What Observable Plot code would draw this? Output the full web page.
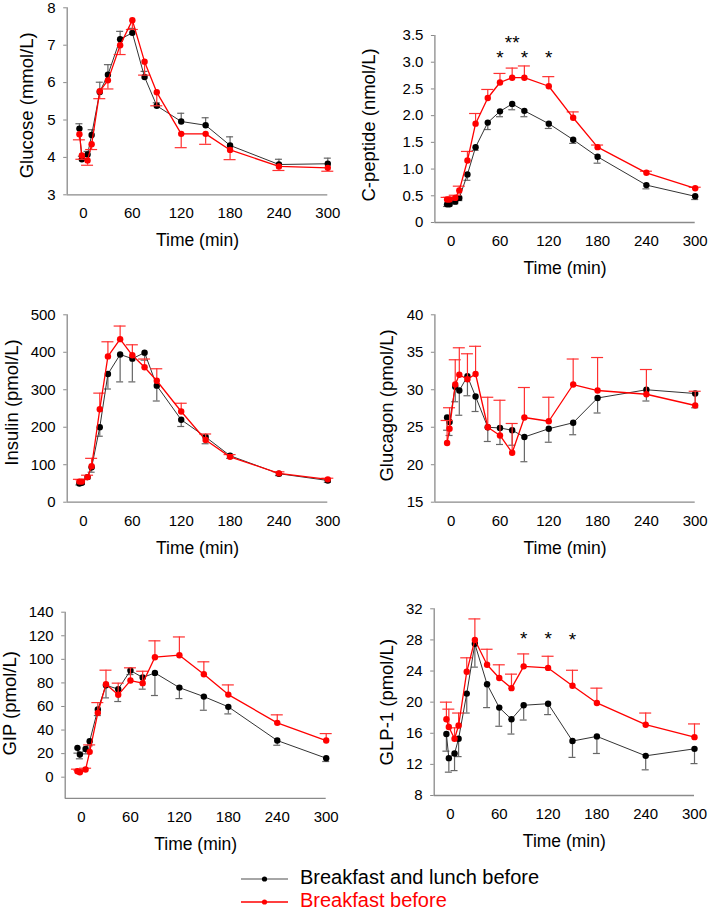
<!DOCTYPE html>
<html><head><meta charset="utf-8">
<script src="https://cdn.jsdelivr.net/npm/d3@7"></script>
<script src="https://cdn.jsdelivr.net/npm/@observablehq/plot@0.6"></script>
<style>
body{margin:0;background:#fff;font-family:"Liberation Sans",Arial,sans-serif;}
#fig{position:relative;width:709px;height:910px;overflow:hidden;background:#fff;}
.panel{position:absolute;}
.leg{position:absolute;left:241px;font-size:20px;line-height:23px;white-space:nowrap;}
.leg svg{vertical-align:middle;margin-right:12px;}
</style></head><body><div id="fig"></div>
<script>
// time points (min)
const time = [-5, -2, 5, 10, 20, 30, 45, 60, 75, 90, 120, 150, 180, 240, 300];
const xTicks = [0, 60, 120, 180, 240, 300];
const seriesNames = ["Breakfast and lunch before", "Breakfast before"];

// Glucose (mmol/L)
const gluB  = [4.77, 3.95, 4.08, 4.60, 5.75, 6.21, 7.16, 7.33, 6.15, 5.38, 4.96, 4.86, 4.32, 3.81, 3.83];
const gluBe = [0.13, 0.08, 0.08, 0.14, 0.26, 0.27, 0.21, 0.12, 0.15, 0.08, 0.22, 0.20, 0.23, 0.14, 0.15];
const gluR  = [4.62, 4.05, 3.92, 4.35, 5.77, 6.06, 7.00, 7.67, 6.56, 5.74, 4.63, 4.63, 4.20, 3.76, 3.72];
const gluRe = [0.15, 0.10, 0.13, 0.14, 0.20, 0.23, 0.25, 0.25, 0.36, 0.36, 0.37, 0.28, 0.26, 0.11, 0.09];
const gluTicks = [3, 4, 5, 6, 7, 8];

// C-peptide (nmol/L)
const cpB  = [0.34, 0.34, 0.39, 0.46, 0.90, 1.41, 1.87, 2.08, 2.22, 2.09, 1.85, 1.55, 1.23, 0.70, 0.49];
const cpBe = [0.04, 0.03, 0.04, 0.05, 0.11, 0.06, 0.13, 0.10, 0.11, 0.11, 0.09, 0.07, 0.12, 0.07, 0.06];
const cpR  = [0.43, 0.43, 0.46, 0.60, 1.16, 1.85, 2.33, 2.62, 2.71, 2.71, 2.55, 1.96, 1.41, 0.93, 0.64];
const cpRe = [0.04, 0.04, 0.05, 0.08, 0.17, 0.19, 0.16, 0.17, 0.18, 0.22, 0.18, 0.11, 0.04, 0.03, 0.02];
const cpTicks = [0, 0.5, 1.0, 1.5, 2.0, 2.5, 3.0, 3.5];
const cpStarT = [60, 75, 90, 120];
const cpStarY = [3.18, 3.46, 3.18, 3.18];
const cpStarS = ["*", "**", "*", "*"];

// Insulin (pmol/L)
const insB  = [50, 52, 67, 93, 200, 342, 394, 383, 399, 311, 220, 174, 124, 76, 58];
const insBe = [4, 4, 5, 13, 24, 40, 73, 62, 20, 41, 18, 18, 7, 5, 5];
const insR  = [55, 55, 67, 96, 248, 389, 435, 392, 360, 324, 242, 166, 121, 77, 61];
const insRe = [6, 5, 5, 21, 43, 39, 35, 28, 22, 32, 22, 16, 6, 4, 3];
const insTicks = [0, 100, 200, 300, 400, 500];

// Glucagon (pmol/L)
const gcgB  = [26.3, 25.7, 30.4, 29.9, 31.8, 29.1, 25.0, 24.9, 24.6, 23.7, 24.8, 25.6, 28.9, 30.0, 29.5];
const gcgBe = [1.7, 1.8, 2.0, 3.3, 2.6, 2.0, 1.9, 2.2, 2.0, 3.3, 1.8, 1.6, 2.0, 1.5, 1.9];
const gcgR  = [22.9, 24.8, 30.7, 32.0, 31.4, 32.1, 25.0, 23.9, 21.6, 26.3, 25.8, 30.7, 29.9, 29.4, 27.9];
const gcgRe = [3.0, 2.8, 3.3, 3.6, 3.4, 3.7, 4.0, 4.7, 3.9, 4.0, 3.2, 3.4, 4.4, 3.3, 1.9];
const gcgTicks = [15, 20, 25, 30, 35, 40];

// GIP (pmol/L)
const gipB  = [24.9, 19.2, 24.0, 30.5, 57.4, 78.0, 74.7, 90.5, 84.6, 88.5, 76.0, 68.4, 59.7, 31.1, 16.1];
const gipBe = [4.5, 3.6, 4.2, 3.9, 5.1, 10.7, 10.5, 3.4, 9.9, 19.2, 9.3, 11.6, 6.0, 4.0, 2.8];
const gipR  = [5.1, 4.2, 6.5, 21.5, 54.6, 78.9, 69.9, 82.0, 79.8, 101.8, 103.5, 87.4, 70.1, 46.1, 31.1];
const gipRe = [1.7, 1.7, 1.1, 5.9, 8.7, 11.9, 9.9, 10.8, 10.1, 13.9, 15.5, 10.5, 8.2, 6.8, 5.9];
const gipTicks = [0, 20, 40, 60, 80, 100, 120, 140];

// GLP-1 (pmol/L)
const glpB  = [15.9, 12.8, 13.4, 15.3, 21.1, 27.5, 22.3, 19.3, 17.8, 19.6, 19.8, 15.0, 15.6, 13.1, 14.0];
const glpBe = [2.2, 1.8, 2.2, 2.3, 2.5, 3.0, 3.0, 2.4, 1.9, 1.9, 1.4, 2.1, 2.2, 1.8, 1.9];
const glpR  = [17.8, 16.8, 15.3, 17.0, 23.9, 28.0, 24.8, 23.1, 21.8, 24.6, 24.4, 22.1, 19.9, 17.1, 15.5];
const glpRe = [2.2, 2.3, 1.4, 1.6, 1.8, 2.7, 2.0, 1.7, 1.8, 1.6, 1.5, 2.0, 1.9, 1.5, 1.7];
const glpTicks = [8, 12, 16, 20, 24, 28, 32];
const glpStarT = [90, 120, 150];
const glpStarY = [28.8, 28.8, 28.6];
const glpStarS = ["*", "*", "*"];

const FONT = "'Liberation Sans', Arial, sans-serif";
const AXIS = "#8a8a8a";
const RED = "#ff0000";

const panels = [
  {label: "Glucose (mmol/L)", left: 0, top: 0, w: 354, h: 270, x0: 66.7, x1: 327.3, y0: 7.3, y1: 194.3,
   dom: [3, 8], ticks: gluTicks, B: gluB, Be: gluBe, R: gluR, Re: gluRe, bs: 1, rs: -1, fmt: d => String(d), ldx: 27, ldy: 4},
  {label: "C-peptide (nmol/L)", left: 354, top: 0, w: 355, h: 280, x0: 434.4, x1: 694.7, y0: 35, y1: 222,
   dom: [0, 3.5], ticks: cpTicks, B: cpB, Be: cpBe, R: cpR, Re: cpRe, bs: -1, rs: 1, fmt: d => d === 0 ? "0" : d.toFixed(1), ldx: 368.5, ldy: -4,
   stars: {t: cpStarT, y: cpStarY, s: cpStarS}},
  {label: "Insulin (pmol/L)", left: 0, top: 280, w: 354, h: 300, x0: 66.7, x1: 327.3, y0: 314.3, y1: 501.7,
   dom: [0, 500], ticks: insTicks, B: insB, Be: insBe, R: insR, Re: insRe, bs: -1, rs: 1, fmt: d => String(d), ldx: 12, ldy: -6},
  {label: "Glucagon (pmol/L)", left: 354, top: 280, w: 355, h: 300, x0: 434.4, x1: 694.7, y0: 314.3, y1: 501.7,
   dom: [15, 40], ticks: gcgTicks, B: gcgB, Be: gcgBe, R: gcgR, Re: gcgRe, bs: -1, rs: 1, fmt: d => String(d), ldx: 386.5, ldy: -3},
  {label: "GIP (pmol/L)", left: 0, top: 580, w: 354, h: 270, x0: 64.7, x1: 325.7, y0: 611.7, y1: 797.9,
   dom: [-18, 140], ticks: gipTicks, B: gipB, Be: gipBe, R: gipR, Re: gipRe, bs: -1, rs: 1, fmt: d => String(d), ldx: 10, ldy: -2},
  {label: "GLP-1 (pmol/L)", left: 354, top: 580, w: 355, h: 270, x0: 433.7, x1: 694, y0: 608.3, y1: 795,
   dom: [8, 32], ticks: glpTicks, B: glpB, Be: glpBe, R: glpR, Re: glpRe, bs: -1, rs: 1, fmt: d => String(d), ldx: 386.5, ldy: 0,
   stars: {t: glpStarT, y: glpStarY, s: glpStarS}}
];

function rows(vals, sems, sign) {
  return time.map((t, i) => ({t, v: vals[i], e: vals[i] + sign * sems[i]}));
}

function seriesMarks(data, lineColor, dotColor, barColor, cap, lw) {
  return [
    Plot.ruleX(data, {x: "t", y1: "v", y2: "e", stroke: barColor, strokeWidth: 1.2}),
    Plot.ruleY(data, {x1: "t", x2: "t", y: "e", insetLeft: -cap, insetRight: -cap, stroke: barColor, strokeWidth: 1.2}),
    Plot.line(data, {x: "t", y: "v", stroke: lineColor, strokeWidth: lw}),
    Plot.dot(data, {x: "t", y: "v", r: 3.2, fill: dotColor, stroke: "none"})
  ];
}

const fig = document.getElementById("fig");
for (const p of panels) {
  const black = rows(p.B, p.Be, p.bs);
  const red = rows(p.R, p.Re, p.rs);
  const marks = [
    Plot.ruleY([p.dom[0]], {x1: -20, x2: 300, stroke: AXIS, strokeWidth: 1.3}),
    Plot.ruleX([-20], {y1: p.dom[0], y2: p.dom[1], stroke: AXIS, strokeWidth: 1.3}),
    Plot.axisX({ticks: xTicks, tickSize: 0, tickPadding: 13, fontSize: 15, fill: "#000", label: null}),
    Plot.axisY({ticks: p.ticks, tickSize: 3.5, tickPadding: 8, fontSize: 15, stroke: AXIS, fill: "#000", tickFormat: p.fmt, label: null}),
    ...seriesMarks(black, "#333", "#000", "#666", 3.5, 1),
    ...seriesMarks(red, RED, RED, "#ff3030", 6, 1.3),
    Plot.text(["Time (min)"], {frameAnchor: "bottom", lineAnchor: "middle", textAnchor: "middle", dy: 46, fontSize: 17.5, fill: "#000"}),
    Plot.text([p.label], {frameAnchor: "left", lineAnchor: "middle", textAnchor: "middle", rotate: -90, dx: p.ldx - p.x0, dy: p.ldy, fontSize: 18.5, fill: "#000"})
  ];
  if (p.stars) {
    const st = p.stars.t.map((t, i) => ({t, y: p.stars.y[i], s: p.stars.s[i]}));
    marks.push(Plot.text(st, {x: "t", y: "y", text: "s", fontSize: 19, dy: 5, fill: "#000"}));
  }
  const chart = Plot.plot({
    width: p.w, height: p.h,
    marginLeft: p.x0 - p.left, marginRight: p.left + p.w - p.x1,
    marginTop: p.y0 - p.top, marginBottom: p.top + p.h - p.y1,
    x: {domain: [-20, 300]},
    y: {domain: p.dom},
    style: {fontFamily: FONT, fontSize: "15px", color: "#000", background: "transparent", overflow: "visible"},
    marks
  });
  chart.classList.add("panel");
  chart.style.left = p.left + "px";
  chart.style.top = p.top + "px";
  fig.appendChild(chart);
}

// legend
const legendColors = [["#888", "#000", "#000"], [RED, RED, RED]];
const legendTops = [866, 889];
seriesNames.forEach((name, i) => {
  const d = document.createElement("div");
  d.className = "leg";
  d.style.top = legendTops[i] + "px";
  d.style.color = legendColors[i][2];
  const [lc, dc] = legendColors[i];
  d.innerHTML = `<svg width="47" height="10"><line x1="0" y1="5" x2="47" y2="5" stroke="${lc}" stroke-width="1.3"/><circle cx="23.5" cy="5" r="2.6" fill="${dc}"/></svg>`;
  const s = document.createElement("span");
  s.textContent = name;
  d.appendChild(s);
  fig.appendChild(d);
});
</script></body></html>
